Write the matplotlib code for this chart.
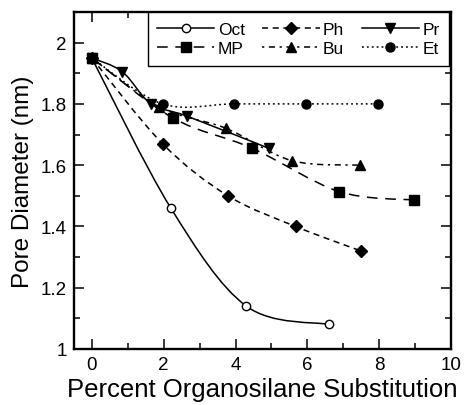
import matplotlib
matplotlib.use("Agg")
import matplotlib.pyplot as plt
from matplotlib.path import Path
from matplotlib.patches import PathPatch
from matplotlib.lines import Line2D
from matplotlib.ticker import MultipleLocator
import numpy as np

plt.rcParams['font.family'] = ['Liberation Sans', 'DejaVu Sans']

# Data
oct_x = [0, 2.2, 4.3, 6.6]
oct_y = [1.95, 1.46, 1.14, 1.08]
ph_x = [0, 1.97, 3.79, 5.67, 7.49]
ph_y = [1.95, 1.67, 1.50, 1.40, 1.32]
pr_x = [0, 0.85, 1.65, 2.65, 4.93]
pr_y = [1.95, 1.905, 1.80, 1.76, 1.655]
mp_x = [0, 2.26, 4.45, 6.88, 8.97]
mp_y = [1.95, 1.754, 1.656, 1.514, 1.486]
bu_x = [0, 1.88, 3.74, 5.56, 7.47]
bu_y = [1.95, 1.79, 1.72, 1.615, 1.60]
et_x = [0, 1.97, 3.95, 5.96, 7.96]
et_y = [1.95, 1.80, 1.80, 1.80, 1.80]

series = [
    ("Oct", oct_x, oct_y, 'o', 'white', 6, '-'),
    ("MP", mp_x, mp_y, 's', 'black', 7, (0, (7, 5))),
    ("Ph", ph_x, ph_y, 'D', 'black', 6.5, (0, (4, 3))),
    ("Bu", bu_x, bu_y, '^', 'black', 7.5, (0, (1.5, 3, 4, 3))),
    ("Pr", pr_x, pr_y, 'v', 'black', 7.5, '-'),
    ("Et", et_x, et_y, 'o', 'black', 6.5, (0, (1.2, 2))),
]


def smooth_path(xs, ys):
    pts = np.column_stack([xs, ys]).astype(float)
    n = len(pts)
    verts = [pts[0]]
    codes = [Path.MOVETO]
    for i in range(n - 1):
        p0 = pts[i - 1] if i > 0 else pts[i]
        p1 = pts[i]
        p2 = pts[i + 1]
        p3 = pts[i + 2] if i + 2 < n else pts[i + 1]
        c1 = p1 + (p2 - p0) / 6.0
        c2 = p2 - (p3 - p1) / 6.0
        verts += [c1, c2, p2]
        codes += [Path.CURVE4] * 3
    return Path(verts, codes)


fig = plt.figure(figsize=(4.67, 4.06), dpi=100)
ax = fig.add_axes([0.158, 0.138, 0.808, 0.830])

handles = []
for name, xs, ys, m, fc, ms, ls in series:
    patch = PathPatch(smooth_path(xs, ys), fill=False, edgecolor='black',
                      linewidth=1.1, linestyle=ls, transform=ax.transData)
    ax.add_patch(patch)
    ax.plot(xs, ys, linestyle='none', marker=m, markersize=ms,
            markerfacecolor=fc, markeredgecolor='black', markeredgewidth=1.0)
    handles.append(Line2D([], [], color='black', linewidth=1.1, linestyle=ls,
                          marker=m, markersize=ms, markerfacecolor=fc,
                          markeredgecolor='black'))

ax.set_xlim(-0.5, 10)
ax.set_ylim(1.0, 2.1)
ax.xaxis.set_major_locator(MultipleLocator(2))
ax.xaxis.set_minor_locator(MultipleLocator(1))
ax.yaxis.set_minor_locator(MultipleLocator(0.1))
ax.set_yticks([1.0, 1.2, 1.4, 1.6, 1.8, 2.0])
ax.set_yticklabels(['1', '1.2', '1.4', '1.6', '1.8', '2'])
ax.tick_params(which='both', direction='in', top=True, right=True,
               labelsize=13.5, width=1.1, pad=5)
ax.tick_params(which='major', length=7.5)
ax.tick_params(which='minor', length=4)
for s in ax.spines.values():
    s.set_linewidth(1.7)

ax.set_xlabel("Percent Organosilane Substitution", fontsize=18.5, labelpad=3)
ax.set_ylabel("Pore Diameter (nm)", fontsize=17.5, labelpad=5)

leg = ax.legend(handles, [s[0] for s in series], ncol=3, loc='upper right',
                bbox_to_anchor=(0.995, 1.0), fontsize=12.5, frameon=True,
                fancybox=False, edgecolor='black', framealpha=1,
                handlelength=3.3, handletextpad=0.2, columnspacing=1.0,
                borderpad=0.55, labelspacing=0.25, borderaxespad=0.0)
leg.get_frame().set_linewidth(1.0)

fig.savefig("out.png", dpi=100)
